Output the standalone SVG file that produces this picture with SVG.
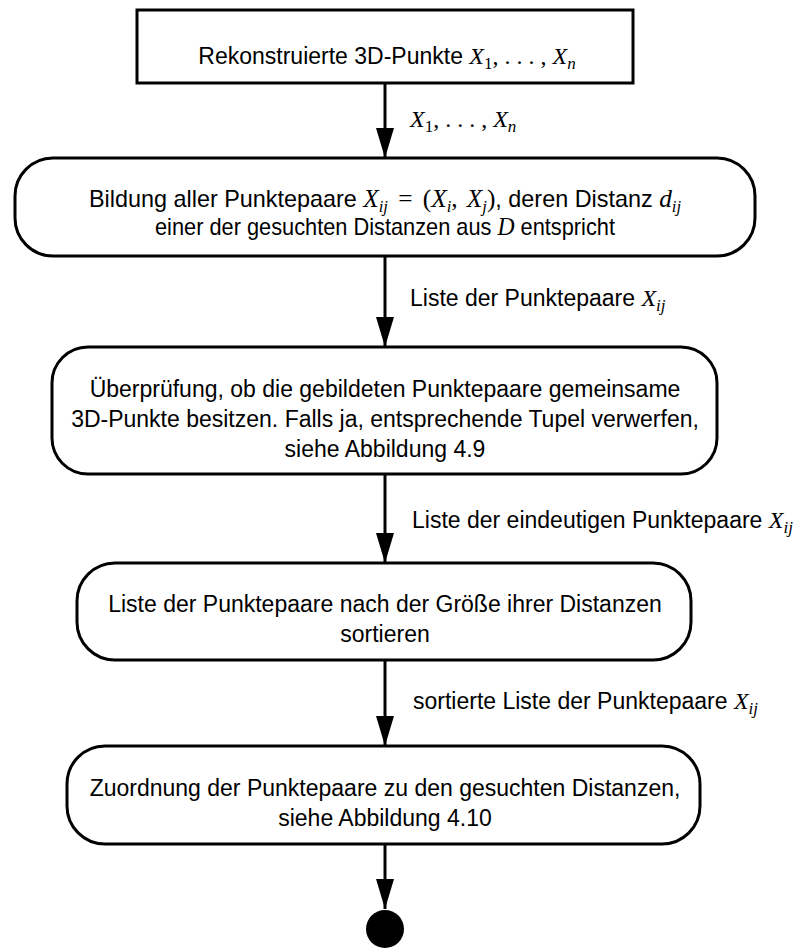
<svg xmlns="http://www.w3.org/2000/svg" width="801" height="949" viewBox="0 0 801 949">
  <style>
    .box { fill: #fff; stroke: #000; stroke-width: 3; }
    .edge { stroke: #000; stroke-width: 3; fill: none; marker-end: url(#head); }
    text { font-family: "Liberation Sans", Arial, Helvetica, sans-serif; font-size: 23px; fill: #000; }
    .c { text-anchor: middle; }
    .m { font-family: "Liberation Serif", "Times New Roman", serif; font-style: italic; font-size: 24px; }
    .r { font-family: "Liberation Serif", "Times New Roman", serif; font-size: 24px; }
    .s { font-family: "Liberation Serif", "Times New Roman", serif; font-style: italic; font-size: 17px; }
    .su { font-family: "Liberation Serif", "Times New Roman", serif; font-size: 17px; }
    .tall { font-size: 24px; }
    .tall .m, .tall .r { font-size: 26px; }
  </style>
  <defs>
    <marker id="head" markerUnits="userSpaceOnUse" markerWidth="30" markerHeight="18" refX="30" refY="9" orient="auto">
      <path d="M0,0 L30,9 L0,18 z" fill="#000"/>
    </marker>
  </defs>

  <!-- connectors -->
  <g id="connectors">
    <line class="edge" x1="385" y1="83" x2="385" y2="158"/>
    <line class="edge" x1="385" y1="256" x2="385" y2="347"/>
    <line class="edge" x1="385" y1="474" x2="385" y2="563"/>
    <line class="edge" x1="385" y1="660" x2="385" y2="746"/>
    <line class="edge" x1="385" y1="844" x2="385" y2="909"/>
    <text x="410" y="127"><tspan class="m">X</tspan><tspan class="su" dy="5">1</tspan><tspan class="r" dy="-5">, . . . , </tspan><tspan class="m">X</tspan><tspan class="s" dy="5">n</tspan></text>
    <text x="410" y="306">Liste der Punktepaare <tspan class="m">X</tspan><tspan class="s" dy="5">ij</tspan></text>
    <text x="412" y="528">Liste der eindeutigen Punktepaare <tspan class="m">X</tspan><tspan class="s" dy="5">ij</tspan></text>
    <text x="413" y="709">sortierte Liste der Punktepaare <tspan class="m">X</tspan><tspan class="s" dy="5">ij</tspan></text>
  </g>

  <!-- start: reconstructed points -->
  <g id="start">
    <rect class="box" x="137" y="10" width="496" height="73"/>
    <text class="c" x="387" y="64">Rekonstruierte 3D-Punkte <tspan class="m">X</tspan><tspan class="su" dy="5">1</tspan><tspan class="r" dy="-5">, . . . , </tspan><tspan class="m">X</tspan><tspan class="s" dy="5">n</tspan></text>
  </g>

  <!-- pair building (narrow lettering) -->
  <g id="pairs">
    <rect class="box" x="15" y="158" width="740" height="98" rx="38" ry="38"/>
    <text class="c tall" x="385" y="207" textLength="592" lengthAdjust="spacingAndGlyphs">Bildung aller Punktepaare <tspan class="m">X</tspan><tspan class="s" dy="5">ij</tspan><tspan class="r" dy="-5" dx="4"> =</tspan><tspan class="r" dx="4"> (</tspan><tspan class="m">X</tspan><tspan class="s" dy="5">i</tspan><tspan class="r" dy="-5">,</tspan><tspan class="r" dx="3"> </tspan><tspan class="m">X</tspan><tspan class="s" dy="5">j</tspan><tspan class="r" dy="-5">)</tspan>, deren Distanz <tspan class="m">d</tspan><tspan class="s" dy="5">ij</tspan></text>
    <text class="c tall" x="385" y="235" textLength="460" lengthAdjust="spacingAndGlyphs">einer der gesuchten Distanzen aus <tspan class="m">D</tspan> entspricht</text>
  </g>

  <!-- shared point check -->
  <g id="check">
    <rect class="box" x="52" y="347" width="665" height="127" rx="36" ry="36"/>
    <text class="c" x="385" y="397">Überprüfung, ob die gebildeten Punktepaare gemeinsame</text>
    <text class="c" x="385" y="427">3D-Punkte besitzen. Falls ja, entsprechende Tupel verwerfen,</text>
    <text class="c" x="385" y="457">siehe Abbildung 4.9</text>
  </g>

  <!-- sorting -->
  <g id="sort">
    <rect class="box" x="77" y="563" width="614" height="97" rx="38" ry="38"/>
    <text class="c" x="385" y="612">Liste der Punktepaare nach der Größe ihrer Distanzen</text>
    <text class="c" x="385" y="642">sortieren</text>
  </g>

  <!-- assignment -->
  <g id="assign">
    <rect class="box" x="67" y="746" width="633" height="98" rx="38" ry="38"/>
    <text class="c" x="385" y="796">Zuordnung der Punktepaare zu den gesuchten Distanzen,</text>
    <text class="c" x="385" y="826">siehe Abbildung 4.10</text>
  </g>

  <!-- end -->
  <g id="end">
    <circle cx="385" cy="929" r="19" fill="#000"/>
  </g>
</svg>
